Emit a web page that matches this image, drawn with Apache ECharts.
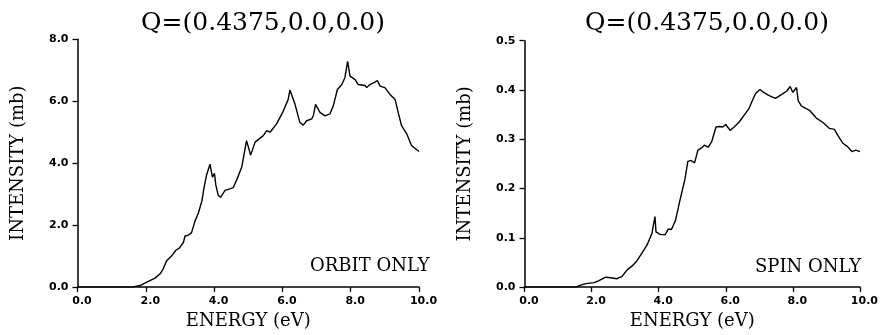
<!DOCTYPE html>
<html>
<head>
<meta charset="utf-8">
<script src="https://cdn.jsdelivr.net/npm/echarts@6/dist/echarts.min.js"></script>
<style>
  html, body { margin: 0; padding: 0; background: #fff; }
  #chart { width: 881px; height: 335px; }
</style>
</head>
<body>
<div id="chart"></div>
<script>
// orbit only (left panel)
var orbitEnergy = [0, 1.0, 1.59, 1.83, 2.03, 2.27, 2.42, 2.51, 2.61, 2.76, 2.88, 2.98, 3.10, 3.15, 3.25, 3.34, 3.44, 3.54, 3.64, 3.71, 3.78, 3.88, 3.95, 4.01, 4.05, 4.12, 4.19, 4.32, 4.46, 4.56, 4.68, 4.81, 4.95, 5.07, 5.20, 5.44, 5.54, 5.64, 5.83, 6.03, 6.17, 6.22, 6.37, 6.51, 6.61, 6.71, 6.86, 6.91, 6.97, 7.10, 7.25, 7.39, 7.49, 7.61, 7.74, 7.83, 7.91, 7.98, 8.13, 8.22, 8.42, 8.47, 8.56, 8.71, 8.78, 8.86, 9.00, 9.15, 9.30, 9.39, 9.49, 9.64, 9.78, 10.0];
var orbitIntensity = [0, 0, 0, 0.05, 0.16, 0.29, 0.43, 0.59, 0.85, 1.01, 1.19, 1.26, 1.44, 1.65, 1.68, 1.76, 2.13, 2.39, 2.77, 3.24, 3.62, 3.97, 3.55, 3.67, 3.30, 2.96, 2.90, 3.12, 3.17, 3.21, 3.51, 3.88, 4.73, 4.26, 4.68, 4.89, 5.05, 5.00, 5.27, 5.69, 6.06, 6.36, 5.90, 5.32, 5.23, 5.37, 5.43, 5.55, 5.90, 5.64, 5.53, 5.59, 5.85, 6.38, 6.54, 6.76, 7.29, 6.81, 6.70, 6.54, 6.51, 6.44, 6.54, 6.62, 6.67, 6.49, 6.44, 6.22, 6.06, 5.64, 5.21, 4.95, 4.57, 4.38];

// spin only (right panel)
var spinEnergy = [0, 1.0, 1.54, 1.63, 1.83, 2.08, 2.22, 2.42, 2.57, 2.76, 2.91, 3.06, 3.21, 3.35, 3.50, 3.65, 3.80, 3.84, 3.89, 3.92, 4.04, 4.19, 4.29, 4.38, 4.50, 4.63, 4.78, 4.87, 4.97, 5.07, 5.17, 5.27, 5.36, 5.48, 5.58, 5.71, 5.81, 5.91, 6.00, 6.13, 6.25, 6.40, 6.54, 6.69, 6.79, 6.89, 7.02, 7.13, 7.28, 7.48, 7.67, 7.82, 7.92, 8.00, 8.11, 8.16, 8.26, 8.51, 8.70, 8.90, 9.09, 9.24, 9.34, 9.49, 9.63, 9.76, 9.88, 10.0];
var spinIntensity = [0, 0, 0, 0.003, 0.007, 0.009, 0.013, 0.020, 0.019, 0.017, 0.022, 0.035, 0.043, 0.053, 0.069, 0.085, 0.109, 0.125, 0.143, 0.112, 0.107, 0.106, 0.118, 0.117, 0.135, 0.175, 0.218, 0.255, 0.257, 0.252, 0.278, 0.282, 0.288, 0.284, 0.295, 0.325, 0.326, 0.325, 0.330, 0.318, 0.325, 0.335, 0.348, 0.362, 0.378, 0.393, 0.401, 0.395, 0.389, 0.383, 0.391, 0.398, 0.407, 0.395, 0.405, 0.378, 0.367, 0.358, 0.343, 0.334, 0.322, 0.320, 0.308, 0.292, 0.285, 0.275, 0.278, 0.275];

var titleText = 'Q=(0.4375,0.0,0.0)';
var xName = 'ENERGY (eV)';
var yName = 'INTENSITY (mb)';

function pairs(xs, ys) {
  return xs.map(function (x, i) { return [x, ys[i]]; });
}

var serif = 'DejaVu Serif';
var tickFont = { fontFamily: 'DejaVu Sans', fontWeight: 'bold', fontSize: 11, color: '#000' };
var axisLine = { show: true, onZero: false, lineStyle: { color: '#000', width: 1.5 } };
var axisTick = { show: true, length: 5, lineStyle: { color: '#000', width: 1.3 } };

function xAxisOf(gi) {
  return {
    type: 'value', gridIndex: gi, min: 0, max: 10, interval: 2,
    name: xName, nameLocation: 'middle', nameGap: 24,
    nameTextStyle: { fontFamily: serif, fontSize: 18, color: '#000' },
    axisLine: axisLine, axisTick: axisTick, splitLine: { show: false },
    axisLabel: Object.assign({ margin: 9, padding: [0, 0, 0, 9], formatter: function (v) { return v.toFixed(1); } }, tickFont)
  };
}

function yAxisOf(gi, max, step) {
  return {
    type: 'value', gridIndex: gi, min: 0, max: max, interval: step,
    name: yName, nameLocation: 'middle', nameGap: 50, nameRotate: 90,
    nameTextStyle: { fontFamily: serif, fontSize: 18, color: '#000' },
    axisLine: axisLine, axisTick: axisTick, splitLine: { show: false },
    axisLabel: Object.assign({ margin: 9, formatter: function (v) { return v.toFixed(1); } }, tickFont)
  };
}

var chart = echarts.init(document.getElementById('chart'));
chart.setOption({
  animation: false,
  backgroundColor: '#fff',
  title: [
    { text: titleText, left: 258, top: 6, textAlign: 'center',
      textStyle: { fontFamily: serif, fontWeight: 'normal', fontSize: 25, color: '#000' } },
    { text: titleText, left: 702, top: 6, textAlign: 'center',
      textStyle: { fontFamily: serif, fontWeight: 'normal', fontSize: 25, color: '#000' } }
  ],
  grid: [
    { left: 77.5, right: 462, top: 39.3, bottom: 45 },
    { left: 524.5, right: 17, top: 40.7, bottom: 44.3 }
  ],
  xAxis: [xAxisOf(0), xAxisOf(1)],
  yAxis: [yAxisOf(0, 8, 2), yAxisOf(1, 0.5, 0.1)],
  graphic: [
    { type: 'text', left: 310, top: 257,
      style: { text: 'ORBIT ONLY', fontFamily: serif, fontSize: 18, fill: '#000' } },
    { type: 'text', left: 755, top: 258,
      style: { text: 'SPIN ONLY', fontFamily: serif, fontSize: 18, fill: '#000' } }
  ],
  series: [
    { type: 'line', xAxisIndex: 0, yAxisIndex: 0, showSymbol: false,
      lineStyle: { color: '#000', width: 1.4 }, data: pairs(orbitEnergy, orbitIntensity) },
    { type: 'line', xAxisIndex: 1, yAxisIndex: 1, showSymbol: false,
      lineStyle: { color: '#000', width: 1.4 }, data: pairs(spinEnergy, spinIntensity) }
  ]
});
</script>
</body>
</html>
